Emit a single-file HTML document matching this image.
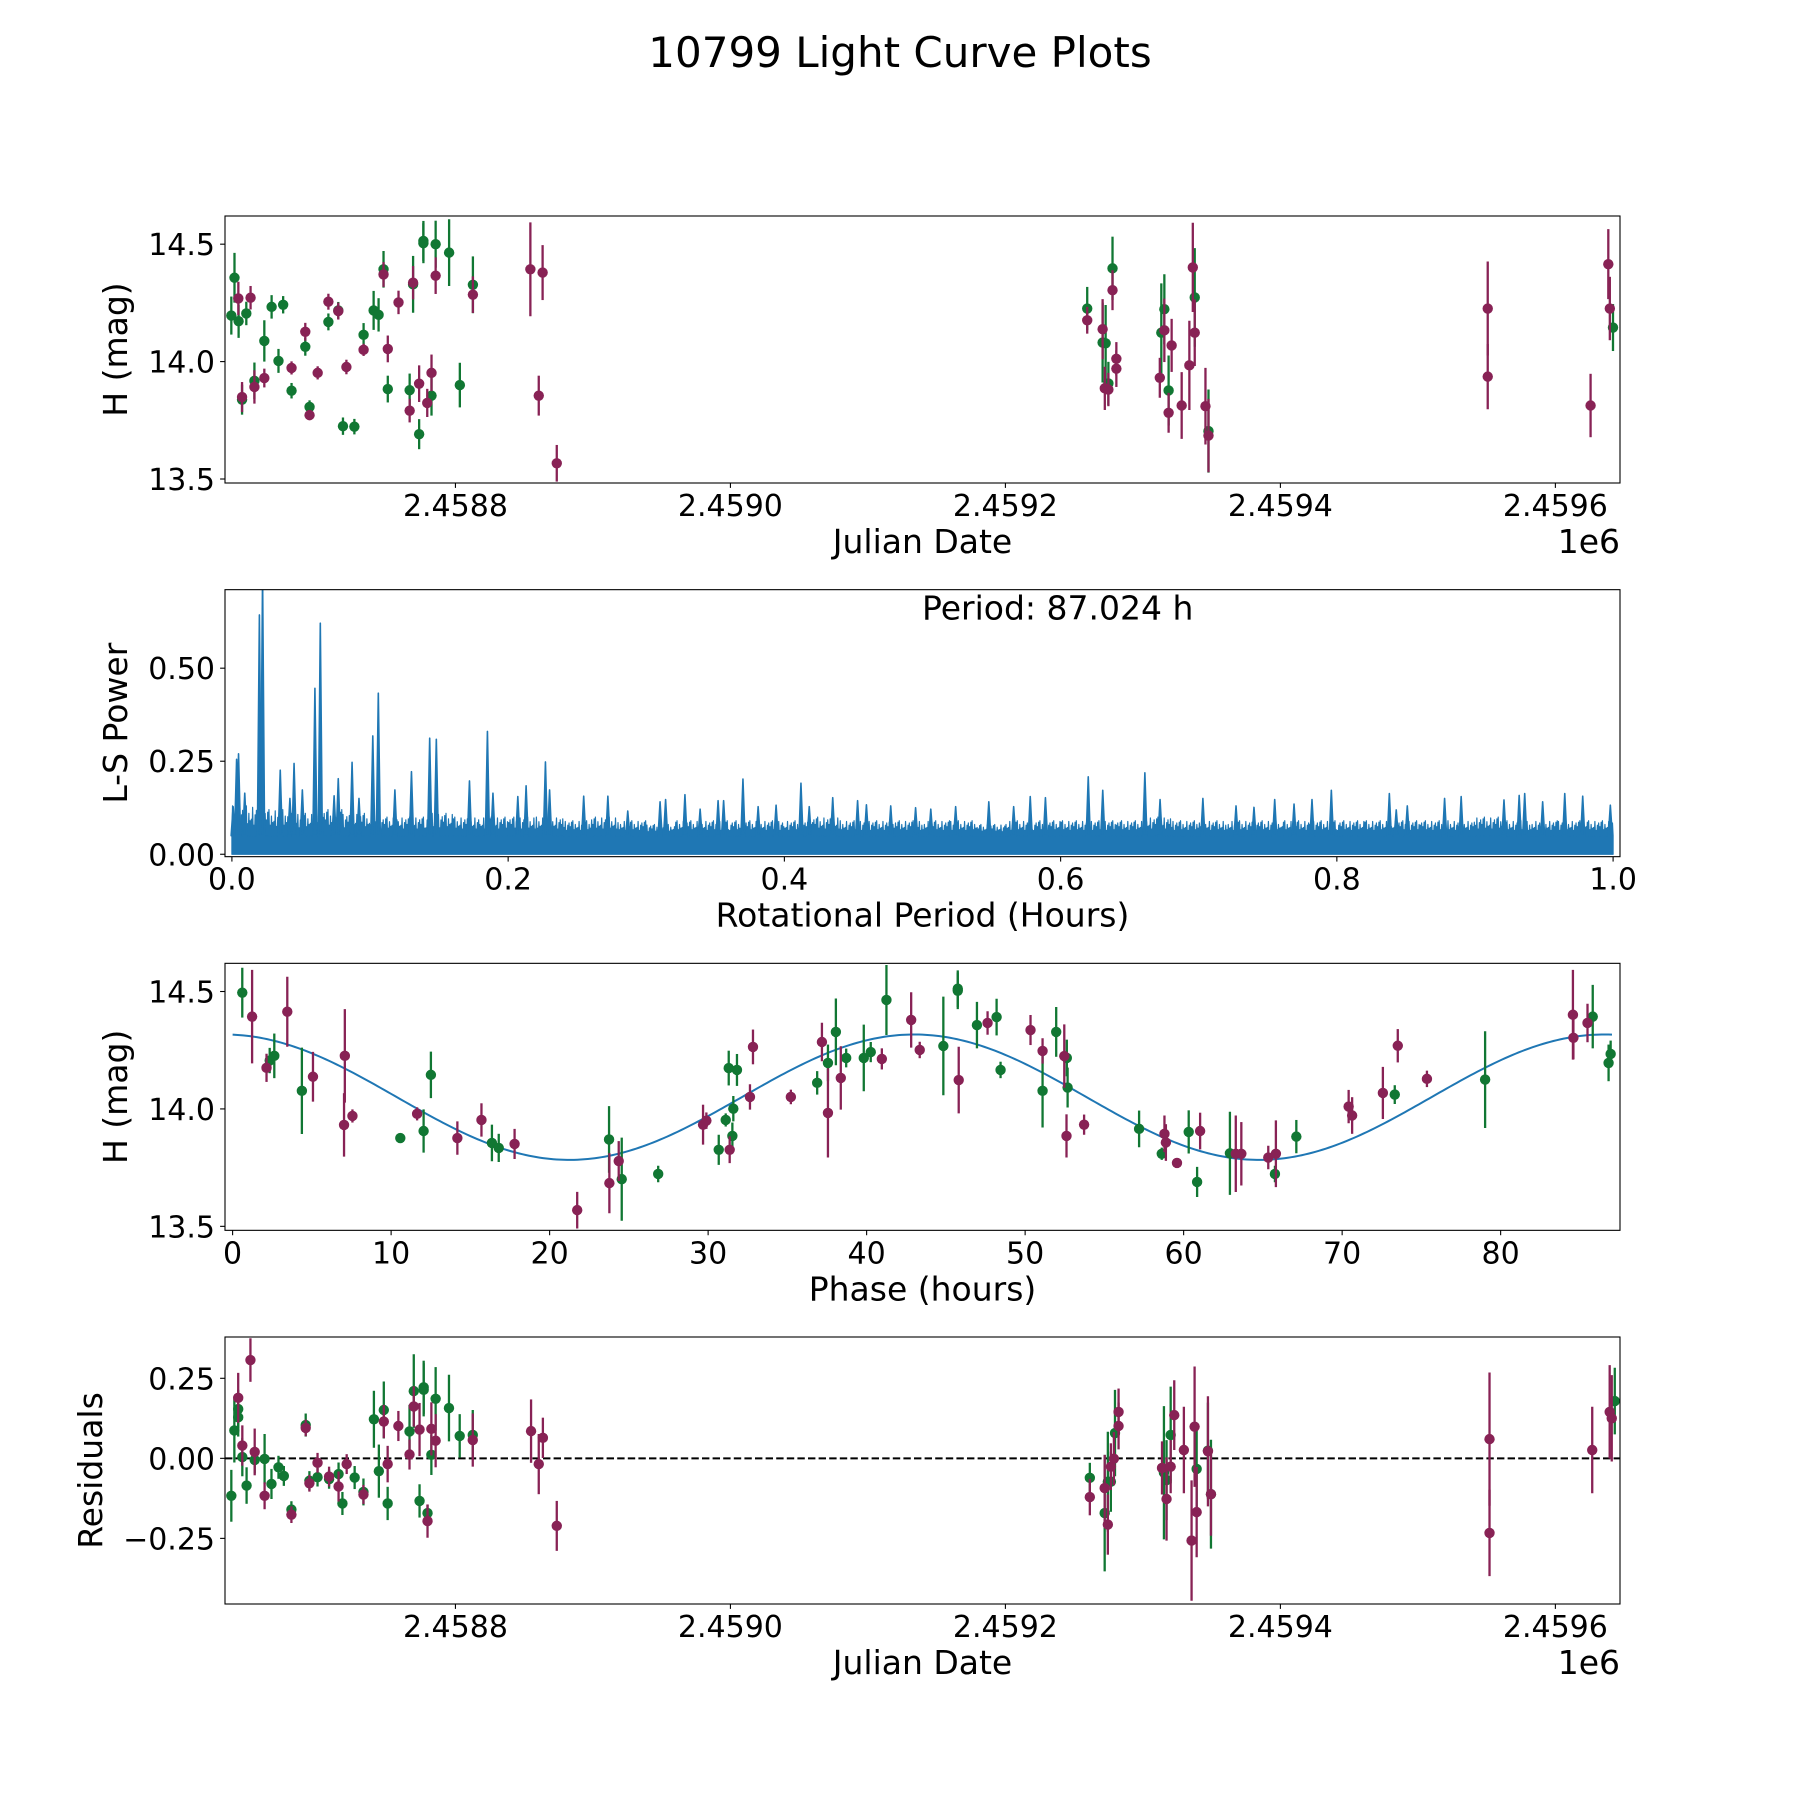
<!DOCTYPE html>
<html><head><meta charset="utf-8"><title>10799 Light Curve Plots</title>
<style>
html,body{margin:0;padding:0;background:#fff;}
svg{display:block;}
text{font-family:"DejaVu Sans","Liberation Sans",sans-serif;fill:#000;}
</style></head>
<body>
<svg id="fig" xmlns="http://www.w3.org/2000/svg" width="1800" height="1800" viewBox="0 0 1800 1800">
<rect x="0" y="0" width="1800" height="1800" fill="#fff"/>
<text x="900" y="67" font-size="42" text-anchor="middle">10799 Light Curve Plots</text>
</svg>
<script>
// ---------- DATA ----------
const JD_REF = 2458800;
// Panel 1: light curve (days relative to JD_REF)
const lcGreenDays = [-163.0,-160.7,-157.7,-155.2,-152.1,-146.2,-139.0,-133.7,-128.7,-125.3,-119.2,-109.2,-106.1,-92.4,-85.2,-81.8,-73.5,-66.8,-59.5,-55.9,-52.3,-49.2,-33.3,-30.8,-26.4,-23.3,-23.3,-17.4,-14.4,-4.6,3.2,12.7,459.5,470.7,472.9,474.9,477.9,513.4,515.6,518.7,537.7,547.7,841.9];
const lcGreenMag = [14.196,14.357,14.172,13.838,14.205,13.918,14.088,14.233,14.003,14.242,13.876,14.063,13.807,14.169,14.218,13.725,13.723,14.114,14.218,14.199,14.393,13.883,13.878,14.329,13.691,14.514,14.504,13.855,14.500,14.464,13.900,14.327,14.226,14.081,14.078,13.907,14.397,14.123,14.223,13.877,14.273,13.704,14.145];
const lcGreenErr = [.081,.106,.071,.064,.05,.078,.088,.05,.051,.037,.033,.038,.028,.036,.036,.037,.033,.05,.083,.071,.078,.057,.071,.121,.064,.085,.085,.085,.1,.142,.095,.121,.092,.17,.163,.092,.135,.21,.149,.149,.21,.177,.1];
const lcPurpleDays = [-157.9,-155.2,-149.0,-146.2,-139.0,-119.2,-109.2,-106.1,-100.2,-92.4,-85.2,-79.3,-66.8,-52.3,-49.2,-41.4,-33.3,-30.8,-26.4,-20.5,-17.4,-14.4,12.7,54.5,60.6,63.4,73.7,459.5,470.7,472.3,474.9,477.9,480.7,480.7,512.3,515.6,518.7,520.9,528.2,533.8,536.3,537.7,545.5,547.7,750.8,750.8,825.6,838.5,839.6];
const lcPurpleMag = [14.269,13.849,14.272,13.892,13.930,13.973,14.127,13.772,13.952,14.255,14.215,13.977,14.050,14.371,14.054,14.252,13.791,14.336,13.906,13.824,13.952,14.366,14.285,14.393,13.855,14.379,13.567,14.176,14.138,13.886,13.881,14.304,14.012,13.970,13.931,14.133,13.782,14.069,13.813,13.984,14.401,14.123,13.810,13.685,14.226,13.936,13.813,14.415,14.226];
const lcPurpleErr = [.071,.064,.05,.071,.04,.028,.038,.021,.028,.034,.036,.031,.026,.053,.057,.05,.05,.071,.078,.06,.078,.078,.078,.2,.085,.117,.078,.057,.128,.092,.071,.085,.071,.078,.085,.135,.085,.113,.142,.19,.19,.142,.163,.156,.2,.139,.135,.149,.135];
const jdTicks = [2458800,2459000,2459200,2459400,2459600];
const jdTickLabels = ["2.4588","2.4590","2.4592","2.4594","2.4596"];
const magTicks = [13.5,14.0,14.5];
const magTickLabels = ["13.5","14.0","14.5"];

// Panel 2: Lomb-Scargle periodogram
const lsSpikeX = [0.0009,0.0034,0.0048,0.0093,0.0199,0.0222,0.035,0.042,0.045,0.051,0.0601,0.0640,0.074,0.077,0.087,0.092,0.102,0.106,0.118,0.130,0.1432,0.148,0.172,0.185,0.189,0.207,0.213,0.227,0.230,0.2547,0.2722,0.2866,0.310,0.314,0.328,0.339,0.352,0.356,0.370,0.381,0.394,0.412,0.418,0.435,0.453,0.4594,0.477,0.495,0.506,0.524,0.548,0.566,0.578,0.589,0.620,0.6305,0.661,0.672,0.703,0.727,0.740,0.755,0.769,0.782,0.796,0.838,0.843,0.851,0.878,0.890,0.921,0.932,0.936,0.949,0.965,0.978,0.998];
const lsSpikeP = [0.128,0.255,0.270,0.164,0.643,0.75,0.226,0.150,0.244,0.173,0.446,0.621,0.157,0.203,0.247,0.150,0.318,0.433,0.173,0.222,0.312,0.309,0.197,0.330,0.164,0.155,0.184,0.248,0.173,0.156,0.156,0.116,0.141,0.147,0.160,0.121,0.144,0.144,0.202,0.128,0.132,0.191,0.128,0.152,0.144,0.133,0.130,0.125,0.121,0.128,0.141,0.128,0.155,0.152,0.208,0.172,0.219,0.147,0.150,0.130,0.126,0.147,0.135,0.147,0.172,0.163,0.119,0.130,0.150,0.155,0.146,0.158,0.163,0.141,0.163,0.156,0.132];
const lsFloor = [0.13,0.12,0.11,0.12,0.11,0.10,0.10,0.11,0.10,0.10,0.10,0.10,0.09,0.10,0.09,0.08,0.09,0.09,0.09,0.09,0.09,0.10,0.09,0.09,0.09,0.09,0.09,0.08,0.09,0.09,0.09,0.09,0.09,0.10,0.09,0.09,0.09,0.09,0.09,0.09,0.09,0.09,0.09,0.09,0.09,0.10,0.09,0.09,0.09,0.09];
const lsBase = [0.05];
const periodText = ["Period: 87.024 h"];
const lsXTicks = [0,0.2,0.4,0.6,0.8,1.0];
const lsXTickLabels = ["0.0","0.2","0.4","0.6","0.8","1.0"];
const lsYTicks = [0,0.25,0.5];
const lsYTickLabels = ["0.00","0.25","0.50"];

// Panel 3: phase-folded
const phGreenPhase = [0.61,2.34,2.63,4.37,10.58,12.05,12.51,16.36,16.79,23.75,24.55,26.85,30.67,31.11,31.30,31.53,31.59,31.82,36.88,37.56,38.06,38.71,39.82,40.26,41.25,44.84,45.75,45.75,46.96,48.20,48.45,51.10,51.96,52.63,52.68,57.19,58.62,60.32,60.85,62.92,65.76,67.11,73.32,79.02,85.81,86.81,86.94];
const phGreenMag = [14.495,14.206,14.226,14.077,13.876,13.906,14.145,13.855,13.834,13.870,13.701,13.723,13.826,13.953,14.174,13.885,14.001,14.166,14.111,14.196,14.328,14.217,14.217,14.242,14.464,14.268,14.512,14.503,14.357,14.391,14.166,14.077,14.328,14.217,14.091,13.915,13.809,13.902,13.689,13.811,13.723,13.882,14.061,14.125,14.393,14.196,14.234];
const phGreenErr = [.106,.054,.095,.184,.021,.092,.099,.078,.06,.142,.177,.035,.064,.028,.074,.057,.054,.068,.05,.078,.142,.04,.142,.043,.149,.21,.078,.078,.099,.078,.035,.156,.106,.078,.085,.078,.026,.092,.064,.177,.035,.071,.04,.206,.135,.078,.057];
const phPurplePhase = [1.23,2.14,3.45,5.07,7.08,7.03,7.56,11.64,14.18,15.70,17.79,21.74,23.77,24.36,29.68,29.89,31.36,32.64,32.83,35.22,37.18,37.56,38.37,40.96,42.81,43.35,45.81,47.63,50.34,51.10,52.47,52.61,53.72,58.79,58.88,59.58,61.04,63.29,63.64,65.34,65.82,70.41,70.63,72.57,73.51,75.35,84.56,84.59,85.48];
const phPurpleMag = [14.393,14.175,14.414,14.137,14.226,13.932,13.970,13.979,13.876,13.953,13.851,13.569,13.684,13.778,13.933,13.950,13.826,14.051,14.264,14.051,14.285,13.983,14.132,14.213,14.379,14.251,14.123,14.366,14.336,14.247,14.225,13.885,13.933,13.894,13.857,13.770,13.906,13.809,13.809,13.793,13.809,14.010,13.972,14.068,14.269,14.128,14.401,14.303,14.366];
const phPurpleErr = [.199,.06,.149,.106,.199,.135,.028,.028,.071,.071,.064,.078,.128,.085,.085,.035,.057,.054,.074,.031,.082,.19,.135,.045,.118,.035,.142,.05,.064,.054,.135,.092,.043,.078,.078,.021,.078,.163,.135,.05,.142,.071,.078,.111,.071,.035,.191,.092,.082];
const fitMean = [14.05];
const fitAmp = [0.267];
const fitPeakPhase = [43.0];
const fitPeriod = [87.024];
const phTicks = [0,10,20,30,40,50,60,70,80];
const phTickLabels = ["0","10","20","30","40","50","60","70","80"];

// Panel 4: residuals
const resGreenDays = [-163.0,-160.8,-158.0,-158.0,-155.0,-151.9,-146.0,-138.8,-133.8,-128.7,-124.8,-119.3,-108.9,-106.2,-100.3,-91.9,-85.0,-82.2,-73.3,-66.9,-59.3,-55.7,-52.1,-49.3,-33.4,-30.3,-26.1,-23.1,-23.1,-20.3,-17.5,-14.4,-4.7,3.1,12.6,461.4,472.2,474.5,476.7,479.7,515.3,517.2,520.2,539.1,547.3,549.5,843.2];
const resGreenVal = [-0.117,0.087,0.154,0.128,0.004,-0.085,-0.005,-0.002,-0.080,-0.028,-0.055,-0.160,0.104,-0.070,-0.059,-0.065,-0.049,-0.141,-0.060,-0.105,0.122,-0.040,0.151,-0.141,0.084,0.210,-0.133,0.214,0.222,-0.171,0.011,0.186,0.157,0.070,0.073,-0.061,-0.171,-0.073,-0.073,0.079,-0.045,-0.068,0.073,-0.033,0.024,-0.112,0.179];
const resGreenErr = [.081,.1,.06,.06,.06,.057,.042,.078,.047,.036,.031,.026,.036,.03,.029,.03,.036,.036,.036,.042,.089,.083,.089,.052,.083,.115,.052,.083,.083,.026,.063,.099,.104,.068,.078,.047,.182,.156,.094,.135,.208,.125,.151,.135,.15,.17,.104];
const resPurpleDays = [-158.0,-155.0,-149.1,-146.0,-138.8,-119.3,-108.9,-106.2,-100.3,-91.9,-85.0,-79.1,-66.9,-52.1,-49.3,-41.5,-33.4,-30.3,-26.1,-20.3,-17.5,-14.4,12.6,55.0,60.6,63.6,73.7,461.4,472.2,474.5,476.7,478.9,482.3,482.3,513.9,517.2,520.2,522.8,529.8,535.4,537.6,539.1,547.3,549.5,752.1,752.1,826.8,839.5,841.0];
const resPurpleVal = [0.189,0.040,0.307,0.020,-0.117,-0.176,0.095,-0.078,-0.014,-0.057,-0.088,-0.018,-0.113,0.115,-0.018,0.101,0.012,0.162,0.090,-0.196,0.092,0.055,0.057,0.085,-0.018,0.064,-0.211,-0.121,-0.093,-0.207,-0.026,-0.001,0.101,0.145,-0.030,-0.127,-0.026,0.135,0.026,-0.257,0.099,-0.168,0.022,-0.112,0.060,-0.233,0.026,0.145,0.125];
const resPurpleErr = [.078,.063,.068,.073,.042,.026,.026,.026,.031,.031,.047,.031,.03,.052,.057,.047,.047,.063,.083,.052,.083,.083,.083,.099,.094,.063,.078,.057,.104,.094,.073,.083,.073,.073,.083,.13,.083,.109,.135,.188,.188,.141,.172,.13,.208,.135,.135,.146,.135];
const resTicks = [-0.25,0,0.25];
const resTickLabels = ["\u22120.25","0.00","0.25"];

// ---------- DRAWING ----------
const NS = "http://www.w3.org/2000/svg";
const svg = document.getElementById("fig");
const GREEN = "#117733", PURPLE = "#882255", BLUE = "#1f77b4";
const AX_L = 225, AX_R = 1620, AX_H = 267;
const AX_TOPS = [216, 589.67, 963.33, 1337];

function mk(tag, attrs, parent) {
  const e = document.createElementNS(NS, tag);
  for (const k in attrs) e.setAttribute(k, attrs[k]);
  (parent || svg).appendChild(e);
  return e;
}
function linScale(d0, d1, r0, r1) { return v => r0 + (v - d0) / (d1 - d0) * (r1 - r0); }

function makeAxes(idx, name, xdom, ydom) {
  const top = AX_TOPS[idx], bot = top + AX_H;
  const g = mk("g", {});
  
  
  const cp = mk("clipPath", {id: "clip" + idx}, g);
  mk("rect", {x: AX_L, y: top, width: AX_R - AX_L, height: AX_H}, cp);
  const plot = mk("g", {"clip-path": "url(#clip" + idx + ")"}, g);
  
  
  return {g, plot, top, bot, x: linScale(xdom[0], xdom[1], AX_L, AX_R), y: linScale(ydom[0], ydom[1], bot, top)};
}
function frame(ax) {
  const r = mk("rect", {x: AX_L, y: ax.top, width: AX_R - AX_L, height: AX_H, fill: "none", stroke: "#000", "stroke-width": 1.1}, ax.g);
  
  
}
function xTicks(ax, vals, labels, name) {
  const g = mk("g", {}, ax.g);
  
  
  vals.forEach((v, i) => {
    const px = ax.x(v);
    mk("line", {x1: px, x2: px, y1: ax.bot, y2: ax.bot + 4.9, stroke: "#000", "stroke-width": 1.1}, g);
    const t = mk("text", {x: px, y: ax.bot + 33, "font-size": 30, "text-anchor": "middle"}, g);
    t.textContent = labels[i];
    
    
  });
}
function yTicks(ax, vals, labels, name) {
  const g = mk("g", {}, ax.g);
  
  
  vals.forEach((v, i) => {
    const py = ax.y(v);
    mk("line", {x1: AX_L - 4.9, x2: AX_L, y1: py, y2: py, stroke: "#000", "stroke-width": 1.1}, g);
    const t = mk("text", {x: AX_L - 10, y: py + 11, "font-size": 30, "text-anchor": "end"}, g);
    t.textContent = labels[i];
    
    
  });
}
function label(ax, txt, x, y, rot, name, anchor) {
  const t = mk("text", {x: x, y: y, "font-size": 33, "text-anchor": anchor || "middle"}, ax.g);
  if (rot) t.setAttribute("transform", "rotate(-90 " + x + " " + y + ")");
  t.textContent = txt;
  
  
  return t;
}
function errSeries(ax, xs, ys, es, color, name) {
  const g = mk("g", {}, ax.plot);
  
  
  xs.forEach((xv, i) => {
    const px = ax.x(xv), py = ax.y(ys[i]);
    const l = mk("line", {x1: px, x2: px, y1: ax.y(ys[i] - es[i]), y2: ax.y(ys[i] + es[i]), stroke: color, "stroke-width": 2.3}, g);
    
    
    const c = mk("circle", {cx: px, cy: py, r: 5.2, fill: color}, g);
    
    
  });
}

const jdDom = [(2458632.4 - JD_REF), (2459647 - JD_REF)];
const jdTickDays = jdTicks.map(v => v - JD_REF);

// ---- Panel 1 ----
const ax1 = makeAxes(0, "light-curve-panel", jdDom, [13.483, 14.62]);
errSeries(ax1, lcGreenDays, lcGreenMag, lcGreenErr, GREEN, "green-series");
errSeries(ax1, lcPurpleDays, lcPurpleMag, lcPurpleErr, PURPLE, "purple-series");
frame(ax1);
xTicks(ax1, jdTickDays, jdTickLabels, "x-axis-ticks");
yTicks(ax1, magTicks, magTickLabels, "y-axis-ticks");
label(ax1, "Julian Date", 922.5, ax1.bot + 70, false, "x-axis-title");
label(ax1, "1e6", AX_R, ax1.bot + 70, false, "x-offset-label", "end");
label(ax1, "H (mag)", 127, (ax1.top + ax1.bot) / 2, true, "y-axis-title");

// ---- Panel 2 ----
const ax2 = makeAxes(1, "periodogram-panel", [-0.005, 1.005], [-0.0065, 0.711]);
(function () {
  const g = mk("g", {}, ax2.plot);
  
  
  const base = lsBase[0];
  const binW = 1 / lsFloor.length;
  let d = "M" + ax2.x(0) + "," + ax2.y(0);
  const teeth = [1.0, 0.55, 0.85, 0.4, 0.95, 0.6, 0.75, 0.35, 0.9, 0.5, 0.7];
  lsFloor.forEach((f, k) => {
    const x0 = k * binW;
    const n = 22;
    for (let j = 0; j < n; j++) {
      const xa = x0 + (j / n) * binW, xb = x0 + ((j + 0.5) / n) * binW;
      const m = teeth[(j * 3 + k) % teeth.length];
      d += " L" + ax2.x(xa).toFixed(2) + "," + ax2.y(base).toFixed(2);
      d += " L" + ax2.x(xb).toFixed(2) + "," + ax2.y(base + (f - base) * m).toFixed(2);
    }
  });
  d += " L" + ax2.x(1) + "," + ax2.y(base) + " L" + ax2.x(1) + "," + ax2.y(0) + " Z";
  const p = mk("path", {d: d, fill: BLUE, stroke: BLUE, "stroke-width": 1.2, "stroke-linejoin": "round"}, g);
  
  
  lsSpikeX.forEach((xv, i) => {
    const px = ax2.x(xv);
    const s = mk("path", {d: "M" + (px - 2) + "," + ax2.y(base) + " L" + px + "," + ax2.y(lsSpikeP[i]) + " L" + (px + 2) + "," + ax2.y(base) + " Z", fill: BLUE, stroke: BLUE, "stroke-width": 1.6, "stroke-linejoin": "round"}, g);
    
    
  });
})();
frame(ax2);
xTicks(ax2, lsXTicks, lsXTickLabels, "x-axis-ticks");
yTicks(ax2, lsYTicks, lsYTickLabels, "y-axis-ticks");
label(ax2, "Rotational Period (Hours)", 922.5, ax2.bot + 70, false, "x-axis-title");
label(ax2, "L-S Power", 127, (ax2.top + ax2.bot) / 2, true, "y-axis-title");
label(ax2, periodText[0], 922, ax2.top + 30, false, "period-annotation", "start");

// ---- Panel 3 ----
const ax3 = makeAxes(2, "phase-fold-panel", [-0.48, 87.53], [13.483, 14.62]);
(function () {
  const per = fitPeriod[0];
  let d = "";
  const N = 400;
  for (let i = 0; i <= N; i++) {
    const ph = per * i / N;
    const m = fitMean[0] + fitAmp[0] * Math.cos(4 * Math.PI * (ph - fitPeakPhase[0]) / per);
    d += (i ? " L" : "M") + ax3.x(ph).toFixed(2) + "," + ax3.y(m).toFixed(2);
  }
  const p = mk("path", {d: d, fill: "none", stroke: BLUE, "stroke-width": 2}, ax3.plot);
  
  
})();
errSeries(ax3, phGreenPhase, phGreenMag, phGreenErr, GREEN, "green-series");
errSeries(ax3, phPurplePhase, phPurpleMag, phPurpleErr, PURPLE, "purple-series");
frame(ax3);
xTicks(ax3, phTicks, phTickLabels, "x-axis-ticks");
yTicks(ax3, magTicks, magTickLabels, "y-axis-ticks");
label(ax3, "Phase (hours)", 922.5, ax3.bot + 70, false, "x-axis-title");
label(ax3, "H (mag)", 127, (ax3.top + ax3.bot) / 2, true, "y-axis-title");

// ---- Panel 4 ----
const ax4 = makeAxes(3, "residuals-panel", jdDom, [-0.455, 0.379]);
(function () {
  const l = mk("line", {x1: AX_L, x2: AX_R, y1: ax4.y(0), y2: ax4.y(0), stroke: "#000", "stroke-width": 2, "stroke-dasharray": "7.4,3.2"}, ax4.plot);
  
  
})();
errSeries(ax4, resGreenDays, resGreenVal, resGreenErr, GREEN, "green-series");
errSeries(ax4, resPurpleDays, resPurpleVal, resPurpleErr, PURPLE, "purple-series");
frame(ax4);
xTicks(ax4, jdTickDays, jdTickLabels, "x-axis-ticks");
yTicks(ax4, resTicks, resTickLabels, "y-axis-ticks");
label(ax4, "Julian Date", 922.5, ax4.bot + 70, false, "x-axis-title");
label(ax4, "1e6", AX_R, ax4.bot + 70, false, "x-offset-label", "end");
label(ax4, "Residuals", 102, (ax4.top + ax4.bot) / 2, true, "y-axis-title");
</script>
</body></html>
